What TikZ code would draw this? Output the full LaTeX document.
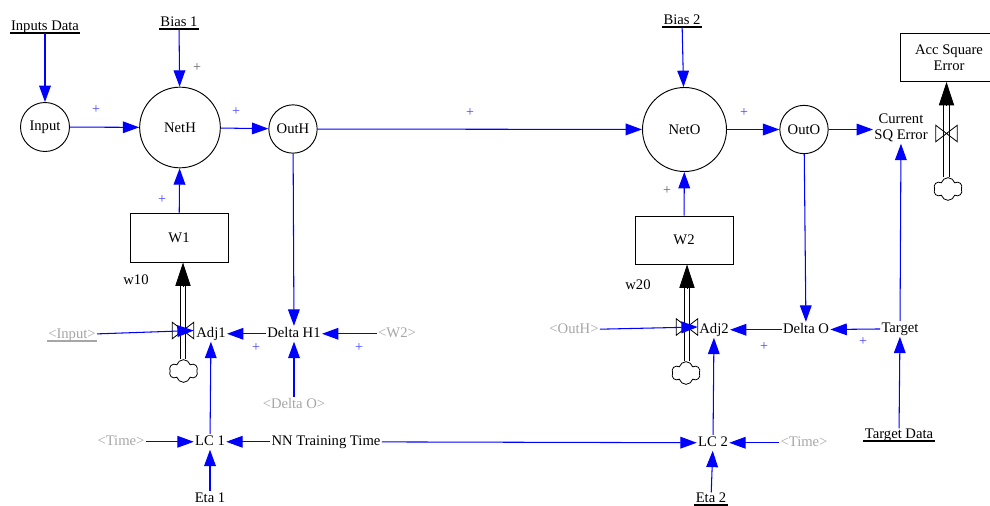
\documentclass[tikz,border=0pt]{standalone}
\usepackage{fontspec}
\setmainfont{Liberation Serif}
\usetikzlibrary{arrows.meta,positioning,calc,shapes.symbols}
\tikzset{
  var/.style      ={inner sep=1pt,align=center,text height=8.6pt,text depth=2.6pt,
                     yshift=-1.5pt,font=\fontsize{12.5}{13.6}\selectfont},
  ghost/.style    ={var,text=gray!70},
  ulvar/.style    ={var,inner ysep=0.3pt,text depth=1.4pt,
                     append after command={(\tikzlastnode.south west)
                     edge[draw=#1,line width=1.3pt] (\tikzlastnode.south east)}},
  ulvar/.default  =black,
  aux/.style      ={draw,circle,inner sep=0pt,line width=0.8pt,
                     font=\fontsize{12.5}{13.6}\selectfont},
  stockbox/.style ={draw,line width=0.8pt,align=center,minimum width=2.94cm,
                     minimum height=1.47cm,font=\fontsize{12.5}{13.6}\selectfont},
  valve/.style    ={minimum width=0.63cm,minimum height=0.48cm,inner sep=0pt},
  cloudy/.style   ={cloud,cloud puffs=6,cloud ignores aspect,draw,line width=0.7pt,
                     minimum width=0.86cm,minimum height=0.68cm,inner sep=0pt},
  link/.style     ={-{Triangle[length=14pt,width=10pt]},blue,line width=0.9pt},
  pipe/.style     ={draw,double=white,double distance=4pt,line width=0.75pt},
  pipetip/.style  ={-{Triangle[length=20pt,width=13pt]},line width=0.75pt},
  pol/.style      ={font=\fontsize{12}{12}\selectfont,text=blue!75,inner sep=0pt},
  poldark/.style  ={pol,text=gray!75!black},
}
\begin{document}
\begin{tikzpicture}[x=0.03cm,y=-0.03cm]
\useasboundingbox (0,0) rectangle (990,505);
% hidden layer
\node[ulvar] (indata) at (45,25) {Inputs Data};
\node[aux,minimum size=1.47cm] (input) at (45,127) {Input};
\node[ulvar] (bias1) at (179,21) {Bias 1};
\node[aux,minimum size=2.42cm] (neth) at (180,127.5) {NetH};
\node[aux,minimum size=1.45cm] (outh) at (293,129) {OutH};
\node[stockbox] (w1) at (179,237.5) {W1};
\node[var] (w10) at (136,279) {w10};
% output layer
\node[ulvar] (bias2) at (682,19) {Bias 2};
\node[aux,minimum size=2.52cm] (neto) at (684.5,129.5) {NetO};
\node[aux,minimum size=1.45cm] (outo) at (804,129.5) {OutO};
\node[var] (sqerr) at (901,134) {Current\\SQ Error};
\node[stockbox,minimum height=1.44cm] (acc) at (949,57.5) {Acc Square\\Error};
\node[stockbox,minimum height=1.44cm] (w2) at (684,240) {W2};
\node[var] (w20) at (638,284) {w20};
% weight adjustment, hidden
\node[valve] (valve1) at (183,330.5) {};
\node[cloudy] (cl1) at (183.5,371) {};
\node[var] (adj1) at (211,332) {Adj1};
\node[var] (dh1) at (294,332) {Delta H1};
\node[ghost] (w2ref) at (397,332) {<W2>};
\node[ulvar=gray!70,text=gray!70] (inref) at (72,333) {<Input>};
\node[ghost] (doref) at (294,403) {<Delta O>};
\node[var] (lc1) at (210,440) {LC 1};
\node[ghost] (time1) at (121,440) {<Time>};
\node[var] (nntime) at (326,440) {NN Training Time};
\node[var] (eta1) at (210,497) {Eta 1};
% weight adjustment, output
\node[valve] (valve2) at (687,327) {};
\node[cloudy] (cl2) at (686,373) {};
\node[var] (adj2) at (714,328) {Adj2};
\node[ghost] (outhref) at (574,328) {<OutH>};
\node[var] (delo) at (806,328) {Delta O};
\node[var] (target) at (900,327) {Target};
\node[ulvar] (tdata) at (899,433) {Target Data};
\node[var] (lc2) at (713,441) {LC 2};
\node[ghost] (time2) at (804,441) {<Time>};
\node[ulvar] (eta2) at (711,497) {Eta 2};
% error stock
\node[valve] (valve3) at (946.5,133.5) {};
\node[cloudy] (cl3) at (948,189) {};
% polarities
\node[poldark] (p1) at (197,68) {+};
\node[pol] (p2) at (96,110) {+};
\node[pol] (p3) at (236,112) {+};
\node[pol] (p4) at (162,200) {+};
\node[pol] (p5) at (470,113) {+};
\node[pol] (p6) at (744,113) {+};
\node[poldark] (p7) at (667,191) {+};
\node[pol] (p8) at (256,348) {+};
\node[pol] (p9) at (359,348) {+};
\node[pol] (p10) at (764,347) {+};
\node[pol] (p11) at (863,342) {+};
% flows
\foreach \v/\c/\s in {valve1/cl1/w1,valve2/cl2/w2,valve3/cl3/acc} {
  \draw[pipe,shorten >=16pt] (\v |- \c.north) -- (\v |- \s.south);
  \draw[pipetip] ($(\v |- \s.south)+(0,24)$) -- (\v |- \s.south);
  \draw[line width=0.7pt] (\v.north west) -- (\v.south east)
    -- (\v.north east) -- (\v.south west) -- cycle;
}
% links
\foreach \a/\b in {indata/input,bias1/neth,input/neth,neth/outh,w1/neth,
  outh/neto,bias2/neto,neto/outo,w2/neto,outh/dh1,outo/delo,
  target/sqerr,tdata/target,dh1/adj1,w2ref/dh1,doref/dh1,lc1/adj1,
  time1/lc1,nntime/lc1,nntime/lc2,eta1/lc1,eta2/lc2,time2/lc2,lc2/adj2,
  delo/adj2,target/delo}
  \draw[link] (\a) -- (\b);
\draw[link] (outo) -- (outo -| sqerr.west);
\draw[link] (inref) -- (valve1.east);
\draw[link] (outhref) -- (valve2.east);
\end{tikzpicture}
\end{document}
